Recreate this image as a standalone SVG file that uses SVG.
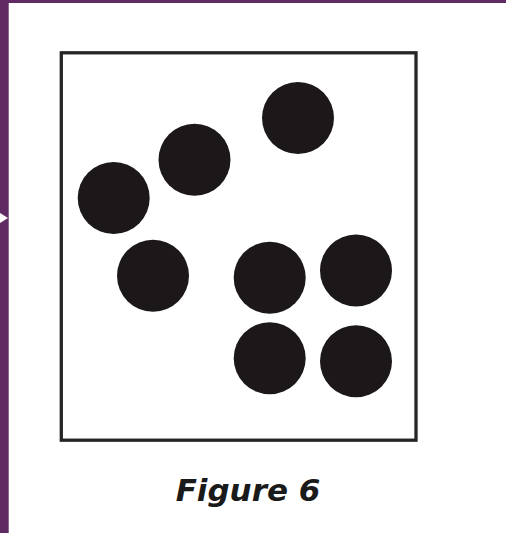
<svg xmlns="http://www.w3.org/2000/svg" width="506" height="533" viewBox="0 0 506 533">
<style>
.dot{fill:#1c1819}
.frame{fill:none;stroke:#252525;stroke-width:3.3}
.cap{font-family:"DejaVu Sans",Verdana,sans-serif;font-weight:bold;font-style:italic;font-size:31px;fill:#1a1a1a}
</style>
<rect x="0" y="0" width="506" height="533" fill="#ffffff"/>
<rect x="0" y="0" width="506" height="3" fill="#5f2b62"/>
<rect x="0" y="0" width="8.7" height="533" fill="#5f2b62"/>
<polygon points="0,213 8,218 0,223" fill="#ffffff"/>
<rect class="frame" x="61.3" y="52.8" width="354.7" height="387.4"/>
<g id="dots">
<circle id="d1" class="dot" cx="298" cy="118" r="36"/>
<circle id="d2" class="dot" cx="194.5" cy="159.7" r="36"/>
<circle id="d3" class="dot" cx="113.7" cy="198" r="36"/>
<circle id="d4" class="dot" cx="153" cy="275.7" r="36"/>
<circle id="d5" class="dot" cx="269.7" cy="277.7" r="36"/>
<circle id="d6" class="dot" cx="356" cy="270.5" r="36"/>
<circle id="d7" class="dot" cx="269.7" cy="358.3" r="36"/>
<circle id="d8" class="dot" cx="356" cy="361.3" r="36"/>
</g>
<text class="cap" x="248" y="501" text-anchor="middle">Figure 6</text>
</svg>
